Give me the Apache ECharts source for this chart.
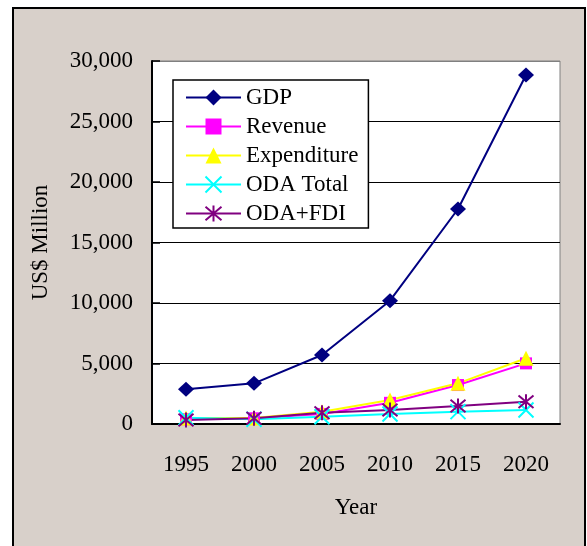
<!DOCTYPE html>
<html>
<head>
<meta charset="utf-8">
<script src="https://cdn.jsdelivr.net/npm/echarts@6/dist/echarts.min.js"></script>
<style>
  html, body { margin: 0; padding: 0; background: #fff; }
  #main { width: 587px; height: 546px; }
</style>
</head>
<body>
<div id="main"></div>
<script>
// data
var years = ['1995', '2000', '2005', '2010', '2015', '2020'];
var gdp = [2870, 3360, 5700, 10190, 17770, 28840];
var revenue = [390, 470, 830, 1750, 3220, 5010];
var expenditure = [500, 500, 1020, 1980, 3360, 5430];
var odaTotal = [520, 390, 600, 830, 1020, 1160];
var odaFdi = [330, 470, 930, 1160, 1490, 1840];

var font = 'Liberation Serif, Times New Roman, serif';
var crossPath = 'path://M0,0L10,10M10,0L0,10';
var starPath = 'path://M0,1L10,11M10,1L0,11M5,0L5,12';

var myChart = echarts.init(document.getElementById('main'));

function lineSeries(name, data, color, symbol, size, hollow) {
    return {
        name: name,
        type: 'line',
        data: data,
        symbol: symbol,
        symbolSize: size,
        showAllSymbol: true,
        animation: false,
        lineStyle: { color: color, width: 2 },
        itemStyle: hollow
            ? { color: 'rgba(0,0,0,0)', borderColor: color, borderWidth: 2 }
            : { color: color, borderWidth: 0 }
    };
}

var option = {
    backgroundColor: '#fff',
    graphic: [{
        type: 'rect',
        z: -100,
        shape: { x: 13, y: 8, width: 572, height: 560 },
        style: { fill: '#d8d0ca', stroke: '#000', lineWidth: 2 }
    }],
    grid: {
        left: 152,
        right: 27,
        top: 61,
        bottom: 122,
        show: true,
        backgroundColor: '#fff',
        borderColor: '#808080',
        borderWidth: 1
    },
    legend: {
        orient: 'vertical',
        left: 173,
        top: 80,
        width: 196,
        backgroundColor: '#fff',
        borderColor: '#000',
        borderWidth: 1.5,
        borderRadius: 0,
        padding: [6, 10, 3, 12],
        itemWidth: 55,
        itemHeight: 20,
        itemGap: 6,
        selectedMode: false,
        textStyle: { fontFamily: font, fontSize: 23, color: '#000', lineHeight: 23 },
        data: ['GDP', 'Revenue', 'Expenditure', 'ODA Total', 'ODA+FDI']
    },
    xAxis: {
        type: 'category',
        data: years,
        boundaryGap: true,
        name: 'Year',
        nameLocation: 'middle',
        nameGap: 72,
        nameTextStyle: { fontFamily: font, fontSize: 23, color: '#000' },
        axisLine: { lineStyle: { color: '#000', width: 2 } },
        axisTick: { inside: true, length: 5, lineStyle: { color: '#000', width: 1.5 } },
        axisLabel: { fontFamily: font, fontSize: 23, color: '#000', margin: 29 },
        splitLine: { show: false }
    },
    yAxis: {
        type: 'value',
        min: 0,
        max: 30000,
        interval: 5000,
        name: 'US$ Million',
        nameLocation: 'middle',
        nameGap: 100,
        nameTextStyle: { fontFamily: font, fontSize: 23, color: '#000' },
        axisLine: { show: true, lineStyle: { color: '#000', width: 2 } },
        axisTick: { show: true, inside: true, length: 8, lineStyle: { color: '#000', width: 1.5 } },
        axisLabel: {
            fontFamily: font, fontSize: 23, color: '#000', margin: 19,
            formatter: function (v) { return v.toLocaleString('en-US'); }
        },
        splitLine: {
            show: true,
            lineStyle: { color: ['#000', '#000', '#000', '#000', '#000', '#000', '#808080'], width: 1 }
        }
    },
    series: [
        lineSeries('GDP', gdp, '#000080', 'diamond', [16, 15], false),
        lineSeries('Revenue', revenue, '#ff00ff', 'rect', 12, false),
        lineSeries('Expenditure', expenditure, '#ffff00', 'triangle', 15, false),
        lineSeries('ODA Total', odaTotal, '#00ffff', crossPath, 15, true),
        lineSeries('ODA+FDI', odaFdi, '#800080', starPath, 15, true)
    ]
};

myChart.setOption(option);
</script>
</body>
</html>
